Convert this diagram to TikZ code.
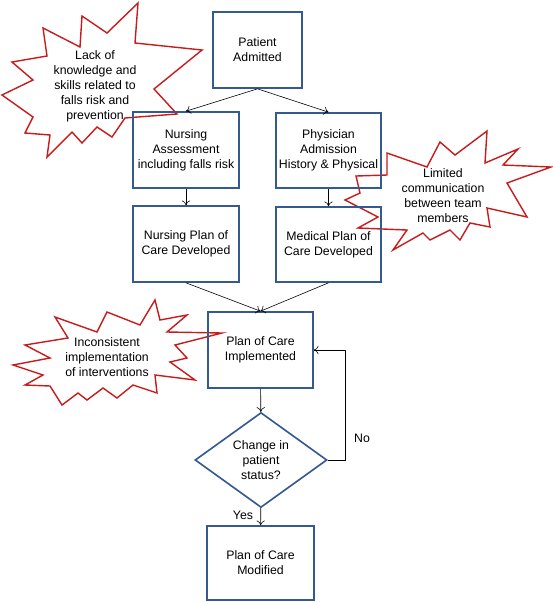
\documentclass[tikz,border=0pt]{standalone}
\usepackage{fontspec}
\setmainfont{Liberation Sans}
\usetikzlibrary{shapes.geometric, arrows.meta}
\definecolor{boxblue}{RGB}{52,90,145}
\definecolor{burstred}{RGB}{200,28,28}
\tikzset{
	stepbox/.style={draw=boxblue, line width=1.4pt, align=center, inner sep=0pt},
	burst/.style={draw=burstred, line width=1.2pt, fill=white, line join=miter},
	bursttext/.style={align=center, inner sep=0pt},
	flow/.style={-{To[length=4pt, width=7pt]}, line width=0.5pt}
}
\begin{document}
\begin{tikzpicture}[x=0.03cm, y=-0.03cm, font=\fontsize{10.5}{12.75}\selectfont]
	\useasboundingbox (0,0) rectangle (553,602);

	% Estrellas (detras de las cajas)
		\draw[burst] (138,3) -- (135,43) -- (202,50) -- (154,89) -- (177,114) -- (125,118) -- (112,137) -- (97,127) -- (82,143) -- (72,132) -- (47,157) -- (50,135) -- (25,133) -- (33,117) -- (2,95) -- (33,80) -- (12,62) -- (47,56) -- (43,28) -- (80,47) -- (82,16) -- (107,33) -- cycle;
		\draw[burst] (387,153) -- (427,167) -- (440,142) -- (455,155) -- (487,131) -- (485,163) -- (518,149) -- (503,165) -- (551,167) -- (507,183) -- (527,217) -- (487,208) -- (490,227) -- (470,223) -- (460,240) -- (450,230) -- (430,240) -- (423,233) -- (393,250) -- (407,230) -- (358,228) -- (378,217) -- (345,200) -- (360,193) -- (356,176) -- (387,175) -- cycle;
		\draw[burst] (155,300) -- (160,320) -- (187,315) -- (167,332) -- (222,333) -- (175,345) -- (187,358) -- (170,362) -- (195,380) -- (155,375) -- (157,393) -- (133,385) -- (117,398) -- (103,388) -- (87,400) -- (78,393) -- (62,405) -- (50,386) -- (25,385) -- (43,375) -- (13,365) -- (50,358) -- (25,345) -- (68,338) -- (55,317) -- (97,332) -- (107,312) -- (140,325) -- cycle;

		\node[bursttext] (lack) at (95,86) {Lack of\\knowledge and\\skills related to\\falls risk and\\prevention};
		\node[bursttext] (comm) at (443,196) {Limited\\communication\\between team\\members};
		\node[bursttext] (incon) at (107,357) {Inconsistent\\implementation\\of interventions};

	% Cajas
		\node[stepbox, minimum width=2.67cm, minimum height=2.28cm] (adm) at (257.5,50) {Patient\\Admitted};
		\node[stepbox, minimum width=3.18cm, minimum height=2.28cm] (nass) at (186,150) {Nursing\\Assessment\\including falls risk};
		\node[stepbox, minimum width=3.15cm, minimum height=2.25cm] (phys) at (328.5,150.5) {Physician\\Admission\\History \& Physical};
		\node[stepbox, minimum width=3.18cm, minimum height=2.28cm] (nplan) at (186,244) {Nursing Plan of\\Care Developed};
		\node[stepbox, minimum width=3.15cm, minimum height=2.25cm] (mplan) at (328.5,244.5) {Medical Plan of\\Care Developed};
		\node[stepbox, minimum width=3.15cm, minimum height=2.28cm] (impl) at (260.5,350) {Plan of Care\\Implemented};
		\node[stepbox, diamond, minimum width=3.96cm, minimum height=2.82cm] (chg) at (261,460) {Change in\\patient\\status?};
		\node[stepbox, minimum width=3.21cm, minimum height=2.22cm] (mod) at (260.5,563) {Plan of Care\\Modified};

	% Flechas
		\draw[flow] (adm.south) -- (nass.north);
		\draw[flow] (adm.south) -- (phys.north);
		\draw[flow] (nass) -- (nplan);
		\draw[flow] (phys) -- (mplan);
		\draw[flow] (nplan.south) -- (impl.north);
		\draw[flow] (mplan.south) -- (impl.north);
		\draw[flow] (impl) -- (chg);
		\draw[flow] (chg) -- (mod) node[pos=0.4, left=3pt] (yes) {Yes};

	% Lazo de regreso
		\coordinate (loop) at (345,460);
		\draw[flow] (chg.east) -- (loop) |- (impl.east);
		\node (no) at (362,438) {No};
\end{tikzpicture}
\end{document}
